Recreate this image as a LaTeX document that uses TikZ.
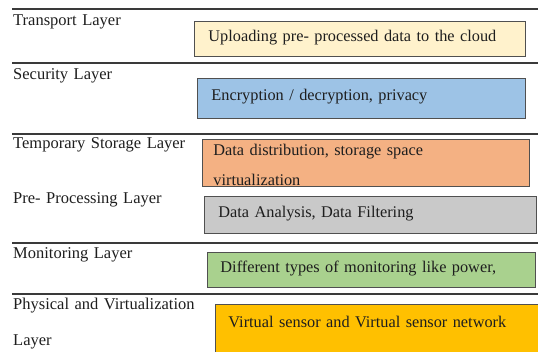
\documentclass[tikz,border=0pt]{standalone}
\usepackage{fontspec}
\setmainfont{Liberation Serif}
\begin{document}
\begin{tikzpicture}[
        x=1pt, y=-1pt, % pixel units, y runs downwards
        layerline/.style={draw=linegray, line width=1.2pt},
        layerlabel/.style={anchor=base west, inner sep=0pt, text width=190pt, align=left,
            font=\fontsize{16.5}{19}\selectfont, text=textdark},
        layerbox/.style={draw=boxgray, line width=0.9pt, anchor=north west, inner xsep=14pt,
            inner ysep=0pt, align=left, font=\fontsize{16.3}{30}\selectfont, text=textdark}
        ]

        % 1. Define colors to match the image
        \definecolor{linegray}{HTML}{3A3A3A}
        \definecolor{boxgray}{HTML}{505050}
        \definecolor{textdark}{HTML}{1E1E1E}
        \definecolor{uploadfill}{HTML}{FFF2CC}
        \definecolor{securefill}{HTML}{9DC3E6}
        \definecolor{storefill}{HTML}{F4B183}
        \definecolor{prepfill}{HTML}{C9C9C9}
        \definecolor{monitorfill}{HTML}{A9D18E}
        \definecolor{physfill}{HTML}{FFC000}

        % 2. Fix the frame of the picture
        \useasboundingbox (0,0) rectangle (538,351);

        % 3. Separator lines between the layers
        \foreach \y in {9,63,134,243,294}
            \draw[layerline] (12,\y) -- (538,\y);

        % 4. Layer names on the left
        \node[layerlabel] (transportlbl) at (13,25) {Transport Layer};
        \node[layerlabel] (securitylbl) at (13,79) {Security Layer};
        \node[layerlabel] (storagelbl) at (13,148) {Temporary Storage Layer};
        \node[layerlabel] (preproclbl) at (13,203) {Pre- Processing Layer};
        \node[layerlabel] (monitorlbl) at (13,258) {Monitoring Layer};
        \node[layerlabel] (physlbl) at (13,309) {Physical and Virtualization\\[17pt]Layer};

        % 5. Coloured boxes with the task of each layer
        \node[layerbox, fill=uploadfill, text width=303pt, text height=20.5pt, text depth=14.5pt]
            (transportbox) at (194,21) {Uploading pre- processed data to the cloud};
        \node[layerbox, fill=securefill, text width=300pt, text height=22pt, text depth=18pt]
            (securitybox) at (197,78) {Encryption / decryption, privacy};
        \node[layerbox, fill=storefill, inner xsep=11pt, text width=305pt, text height=16pt, text depth=31pt]
            (storagebox) at (202,139) {Data distribution, storage space\\virtualization};
        \node[layerbox, fill=prepfill, text width=304pt, text height=21pt, text depth=16pt]
            (preprocbox) at (204,196) {Data Analysis, Data Filtering};
        \node[layerbox, fill=monitorfill, inner xsep=13pt, text width=302pt, text height=20pt, text depth=15pt]
            (monitorbox) at (207,252) {Different types of monitoring like power,};
        \node[layerbox, fill=physfill, inner xsep=13pt, text width=309pt, text height=23pt, text depth=35pt]
            (physbox) at (215,304) {Virtual sensor and Virtual sensor network};
    \end{tikzpicture}
\end{document}
